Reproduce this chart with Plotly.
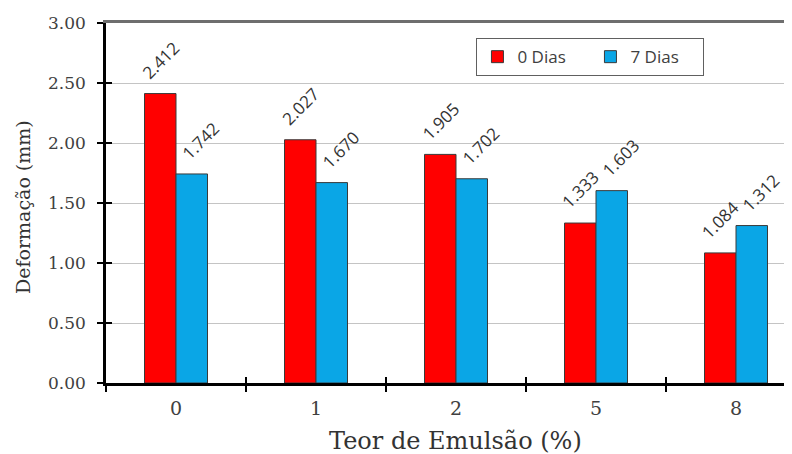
import plotly.graph_objects as go

categories = ["0", "1", "2", "5", "8"]
dias0 = [2.412, 2.027, 1.905, 1.333, 1.084]
dias7 = [1.742, 1.670, 1.702, 1.603, 1.312]
series_names = ["0 Dias", "7 Dias"]
y_ticks = [0.0, 0.5, 1.0, 1.5, 2.0, 2.5, 3.0]
y_ticktext = ["0.00", "0.50", "1.00", "1.50", "2.00", "2.50", "3.00"]

RED = "#FF0000"
BLUE = "#0AA6E6"
SERIF = "DejaVu Serif"
SANS = "Open Sans"

fig = go.Figure()
for name, vals, col in [(series_names[0], dias0, RED), (series_names[1], dias7, BLUE)]:
    fig.add_trace(go.Bar(
        x=categories, y=vals, name=name,
        marker=dict(color=col, line=dict(color="#3a3a3a", width=1)),
        xaxis="x", yaxis="y",
    ))

# data labels (x given as category index on the category axis)
half = 0.45 * 140 / 4
annotations = []
for vals, sh in [(dias0, -half), (dias7, half + 9)]:
    for i, v in enumerate(vals):
        annotations.append(dict(
            x=i, y=v, xref="x", yref="y", text=f"{v:.3f}", showarrow=False,
            textangle=-45, xanchor="center", yanchor="bottom", xshift=sh, yshift=7,
            font=dict(family=SANS, size=17, color="#333333"),
        ))

annotations.append(dict(
    text="Deformação (mm)", xref="paper", yref="paper", x=-0.121, y=0.489,
    xanchor="center", yanchor="middle", textangle=-90, showarrow=False,
    font=dict(family=SERIF, size=19, color="#333333")))
annotations.append(dict(
    text="Teor de Emulsão (%)", xref="paper", yref="paper", x=0.510, y=-0.161,
    xanchor="center", yanchor="middle", showarrow=False,
    font=dict(family=SERIF, size=24, color="#333333")))

fig.update_layout(
    width=784, height=446,
    margin=dict(l=98, r=0, t=15, b=71),
    paper_bgcolor="white", plot_bgcolor="white",
    barmode="group", bargap=0.55, bargroupgap=0,
    showlegend=True,
    legend=dict(
        orientation="h", x=0.540, y=0.958, xanchor="left", yanchor="top",
        bordercolor="#606060", borderwidth=1, bgcolor="white",
        font=dict(family=SANS, size=17, color="#404040"),
        itemwidth=30, entrywidth=68, entrywidthmode="pixels",
        traceorder="normal",
    ),
    xaxis=dict(
        type="category", range=[-0.5, 4.4],
        showline=True, linecolor="black", linewidth=2.5,
        ticks="outside", tickson="boundaries", ticklen=6, tickwidth=2, tickcolor="black",
        showgrid=False, zeroline=False,
        tickfont=dict(family=SERIF, size=19, color="#404040"),
        ticklabelstandoff=6,
    ),
    yaxis=dict(
        range=[0, 3.0], tickvals=y_ticks, ticktext=y_ticktext,
        showline=True, linecolor="black", linewidth=2.5,
        ticks="outside", ticklen=6, tickwidth=2, tickcolor="black",
        showgrid=True, gridcolor="#c4c4c4", gridwidth=1,
        zeroline=False,
        tickfont=dict(family=SERIF, size=17, color="#404040"),
        ticklabelstandoff=8,
    ),
    xaxis2=dict(
        overlaying="x", anchor="y", range=[-0.5, 4.4], tickvals=[-0.5, 0.5, 1.5, 2.5, 3.5],
        ticks="inside", ticklen=6, tickwidth=2, tickcolor="black",
        showticklabels=False, showgrid=False, zeroline=False, showline=False,
    ),
    yaxis2=dict(
        overlaying="y", anchor="x", side="left", range=[0, 3.0], tickvals=y_ticks,
        ticks="inside", ticklen=6, tickwidth=2, tickcolor="black",
        showticklabels=False, showgrid=False, zeroline=False, showline=False,
    ),
    xaxis3=dict(
        overlaying="x", side="top", anchor="y", range=[-0.5, 4.4],
        showline=True, linecolor="#6e6e6e", linewidth=2.5,
        showticklabels=False, ticks="", showgrid=False, zeroline=False,
    ),
    annotations=annotations,
)
# invisible traces to activate overlay axes
fig.add_trace(go.Scatter(x=[None], y=[None], xaxis="x2", yaxis="y2", showlegend=False, hoverinfo="skip"))
fig.add_trace(go.Scatter(x=[None], y=[None], xaxis="x3", yaxis="y", showlegend=False, hoverinfo="skip"))

fig.write_html("out.html")
